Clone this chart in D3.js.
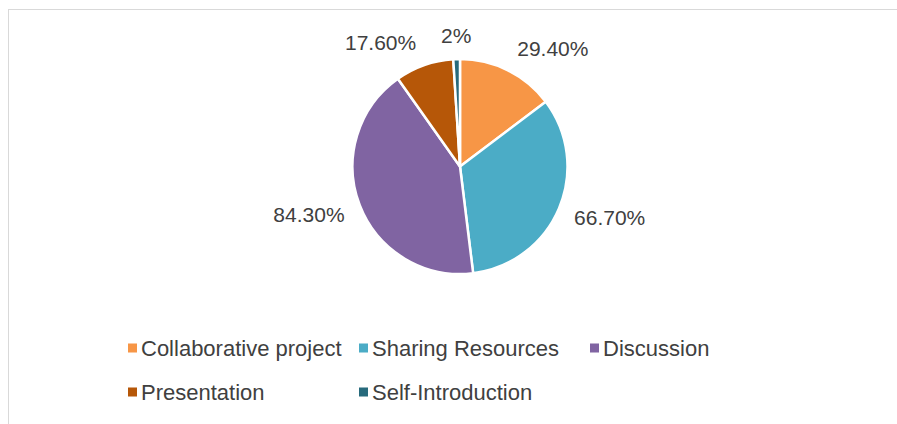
<!DOCTYPE html>
<html>
<head>
<meta charset="utf-8">
<script src="https://cdn.jsdelivr.net/npm/d3@7"></script>
<style>
  html, body { margin: 0; padding: 0; background: #fff; }
  svg { display: block; font-family: "Liberation Sans", Arial, sans-serif; }
</style>
</head>
<body>
<svg width="897" height="424"></svg>
<script>
// chart data
const categories = ["Collaborative project", "Sharing Resources", "Discussion", "Presentation", "Self-Introduction"];
const values = [29.4, 66.7, 84.3, 17.6, 2];
const labels = ["29.40%", "66.70%", "84.30%", "17.60%", "2%"];
const colors = ["#F79646", "#4BACC6", "#8064A2", "#B65708", "#276A7C"];

const width = 897;
const height = 424;
const cx = 460, cy = 166.5, radius = 107.5;
const textColor = "#404040";

const svg = d3.select("svg");

// chart area border
svg.append("rect")
    .attr("x", 8.5).attr("y", 9.5)
    .attr("width", width).attr("height", height)
    .attr("fill", "none")
    .attr("stroke", "#d9d9d9")
    .attr("stroke-width", 1);

const pie = d3.pie().sort(null).value(d => d);
const arcs = pie(values);
const arc = d3.arc().innerRadius(0).outerRadius(radius);

const g = svg.append("g").attr("transform", `translate(${cx},${cy})`);

g.selectAll("path")
    .data(arcs)
    .join("path")
    .attr("d", arc)
    .attr("fill", (d, i) => colors[i])
    .attr("stroke", "#fff")
    .attr("stroke-width", 2.5)
    .attr("stroke-linejoin", "round");

// outside end labels
const labelR = radius + 12;
g.selectAll("text.lbl")
    .data(arcs)
    .join("text")
    .attr("class", "lbl")
    .each(function (d, i) {
      const a = (d.startAngle + d.endAngle) / 2;
      const s = Math.sin(a), c = Math.cos(a);
      let x = s * labelR, y = -c * labelR;
      let anchor = "middle";
      if (s > 0.2) { anchor = "start"; x += 4; }
      else if (s < -0.2) { anchor = "end"; x -= 4; }
      y += -c * 12;
      d3.select(this)
        .attr("x", x).attr("y", y)
        .attr("dy", "0.36em")
        .attr("text-anchor", anchor)
        .attr("font-size", 21)
        .attr("fill", textColor)
        .text(labels[i]);
    });

// legend
const legendX = 128, legendY = 348, colW = 231, rowH = 44, perRow = 3;
const legend = svg.append("g");
const item = legend.selectAll("g")
    .data(categories)
    .join("g")
    .attr("transform", (d, i) => `translate(${legendX + (i % perRow) * colW},${legendY + Math.floor(i / perRow) * rowH})`);

item.append("rect")
    .attr("x", 0).attr("y", -4.5)
    .attr("width", 9).attr("height", 9)
    .attr("fill", (d, i) => colors[i]);

item.append("text")
    .attr("x", 13)
    .attr("y", 0)
    .attr("dy", "0.36em")
    .attr("font-size", 22)
    .attr("fill", textColor)
    .text(d => d);
</script>
</body>
</html>
